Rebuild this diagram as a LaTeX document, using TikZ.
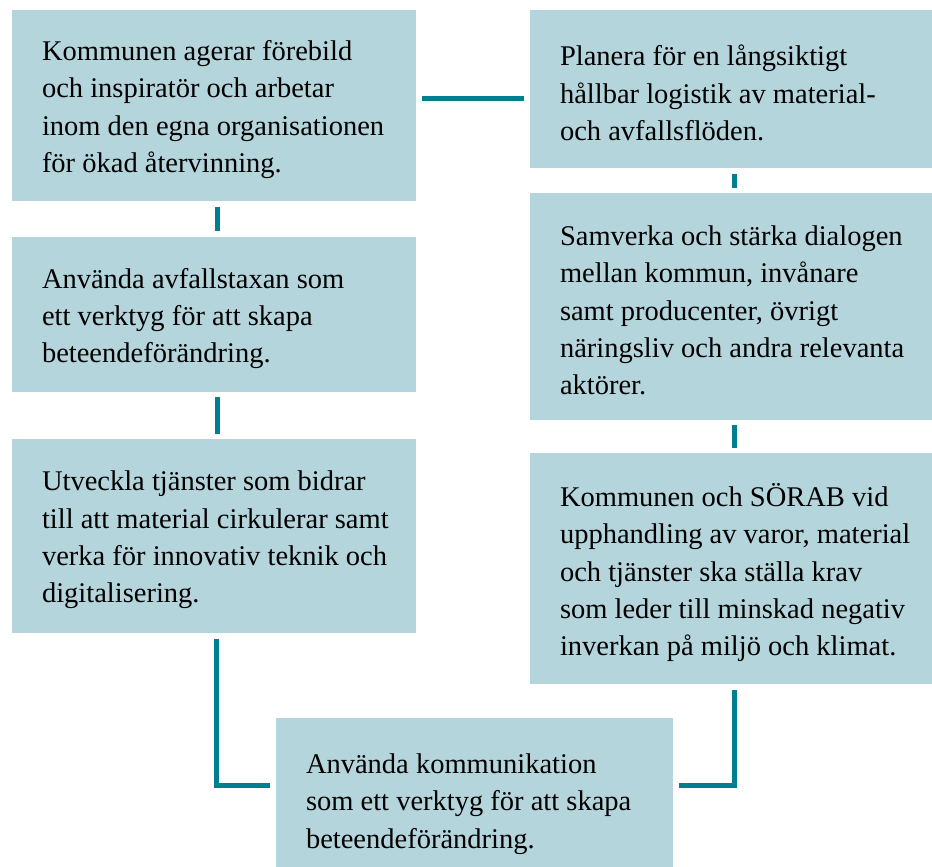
\documentclass[tikz,border=0pt]{standalone}
\usepackage{fontspec}
\setmainfont{Liberation Serif}
\usetikzlibrary{positioning, calc}

\begin{document}
\begin{tikzpicture}[x=1pt,y=-1pt]
\definecolor{boxblue}{RGB}{181,213,220};
\definecolor{linkteal}{RGB}{0,128,143};
\useasboundingbox (0,0) rectangle (932,867);
\fill[white] (0,0) rectangle (932,867);
\clip (0,0) rectangle (932,867);
\tikzstyle{box}=[draw=none, fill=boxblue, inner sep=0pt,
                 minimum width=404pt];
\tikzstyle{txt}=[anchor=west, inner sep=0pt, align=left, xshift=30pt,
                 font=\fontsize{28.5}{37.3}\selectfont];
\tikzstyle{link}=[draw=linkteal, line width=5pt];
% left column
\node[box, minimum height=191pt] (b1) at (214,105.5) {};
\node[box, minimum height=155pt] (b2) at (214,314.5) {};
\node[box, minimum height=194pt] (b3) at (214,536) {};
% right column
\node[box, minimum height=158pt, minimum width=405pt] (b4) at (732.5,89) {};
\node[box, minimum height=227pt, minimum width=405pt] (b5) at (732.5,306.5) {};
\node[box, minimum height=231pt, minimum width=405pt] (b6) at (732.5,568.5) {};
% bottom
\node[box, minimum height=164pt, minimum width=397pt] (b7) at (474.5,800) {};

\node[txt, yshift=-4pt] (t1) at (b1.west) {Kommunen agerar förebild\\och inspiratör och arbetar\\inom den egna organisationen\\för ökad återvinning.};
\node[txt, yshift=-4pt] (t2) at (b2.west) {Använda avfallstaxan som\\ett verktyg för att skapa\\beteendeförändring.};
\node[txt, yshift=-4pt] (t3) at (b3.west) {Utveckla tjänster som bidrar\\till att material cirkulerar samt\\verka för innovativ teknik och\\digitalisering.};
\node[txt, yshift=-4pt] (t4) at (b4.west) {Planera för en långsiktigt\\hållbar logistik av material-\\och avfallsflöden.};
\node[txt, yshift=-4pt] (t5) at (b5.west) {Samverka och stärka dialogen\\mellan kommun, invånare\\samt producenter, övrigt\\näringsliv och andra relevanta\\aktörer.};
\node[txt, yshift=-4pt] (t6) at (b6.west) {Kommunen och SÖRAB vid\\upphandling av varor, material\\och tjänster ska ställa krav\\som leder till minskad negativ\\inverkan på miljö och klimat.};
\node[txt, yshift=-4pt] (t7) at (b7.west) {Använda kommunikation\\som ett verktyg för att skapa\\beteendeförändring.};

% connectors
\draw[link, shorten <=6pt, shorten >=6pt] ([xshift=3.5pt]b1.south) -- ([xshift=3.5pt]b2.north);
\draw[link, shorten <=5pt, shorten >=5pt] ([xshift=3.5pt]b2.south) -- ([xshift=3.5pt]b3.north);
\draw[link, shorten <=6pt, shorten >=5pt] ([xshift=2pt]b4.south) -- ([xshift=2pt]b5.north);
\draw[link, shorten <=5pt, shorten >=5pt] ([xshift=2pt]b5.south) -- ([xshift=2pt]b6.north);
\draw[link, shorten <=6pt, shorten >=5.5pt] ([yshift=7pt]b1.east) -- ([yshift=7pt]b1.east -| b4.west);
\draw[link] ([xshift=2.5pt,yshift=-6pt]b3.south) |- ([xshift=-6pt,yshift=14.5pt]b7.west);
\draw[link] ([xshift=2pt,yshift=-6pt]b6.south) |- ([xshift=6pt,yshift=14.5pt]b7.east);
\end{tikzpicture}
\end{document}
